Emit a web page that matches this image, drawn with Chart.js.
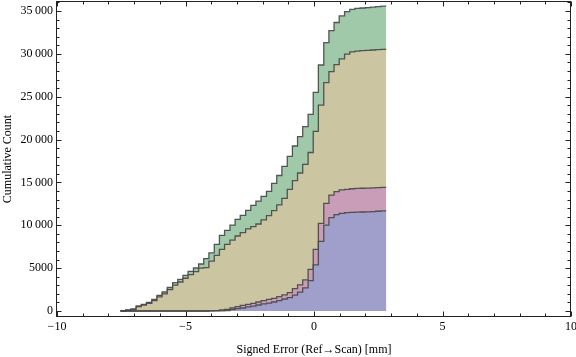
<!DOCTYPE html>
<html>
<head>
<meta charset="utf-8">
<script src="https://cdn.jsdelivr.net/npm/chart.js@4/dist/chart.umd.min.js"></script>
<style>
  html, body { margin: 0; padding: 0; background: #fff; }
</style>
</head>
<body>
<canvas id="cumChart" width="576" height="357"></canvas>
<script>
// bin edges of the cumulative histogram (mm)
const binEdges = [-7.53, -7.33, -7.12, -6.92, -6.72, -6.52, -6.31, -6.11, -5.91, -5.71,
  -5.50, -5.30, -5.10, -4.90, -4.69, -4.49, -4.29, -4.09, -3.88, -3.68,
  -3.48, -3.27, -3.07, -2.87, -2.66, -2.46, -2.26, -2.06, -1.85, -1.65,
  -1.45, -1.25, -1.04, -0.84, -0.64, -0.44, -0.23, -0.03, 0.17, 0.38,
  0.58, 0.78, 0.98, 1.19, 1.39, 1.59, 1.79, 2.00, 2.20, 2.40, 2.60, 2.81];

// cumulative counts per bin, one list per layer
const blueCounts = [0, 0, 0, 0, 0, 0, 0, 0, 0, 0, 0, 0, 0, 0, 0, 0, 0,
  5, 10, 20, 50, 150, 270, 350, 470, 580, 700, 820, 930, 1050, 1200, 1400, 1570,
  1850, 2200, 2700, 3550, 5370, 8130, 10030, 10900, 11250, 11400, 11470, 11500,
  11530, 11550, 11570, 11600, 11640, 11670];
const pinkCounts = [0, 0, 0, 0, 0, 0, 0, 0, 0, 0, 0, 0, 0, 0, 0, 0, 0,
  10, 40, 117, 200, 350, 500, 660, 780, 900, 1050, 1200, 1360, 1480, 1670, 1870, 2150,
  2600, 3050, 3620, 4860, 7200, 10230, 12560, 13530, 13920, 14120, 14190, 14260,
  14300, 14320, 14340, 14360, 14400, 14430];
const tanCounts = [20, 90, 200, 500, 678, 881, 1200, 1638, 1997, 2511, 3026, 3384, 3821,
  4248, 4597, 5013, 5050, 5830, 6500, 7200, 7780, 8280, 8750, 9140, 9570, 9840,
  10150, 10620, 11120, 11700, 12370, 13150, 14200, 15200, 16100, 17110, 18490,
  20960, 24030, 26640, 27920, 28740, 29420, 29960, 30220, 30330, 30370, 30410,
  30450, 30490, 30530];
const greenCounts = [30, 117, 233, 583, 778, 1011, 1361, 1828, 2217, 2761, 3306, 3694,
  4161, 4628, 5017, 5483, 6120, 6780, 7780, 8830, 9410, 10030, 10700, 11165,
  11750, 12330, 12830, 13380, 13950, 14900, 15810, 16870, 18030, 19250, 20340,
  21500, 22950, 25500, 28700, 31300, 32700, 33660, 34420, 34920, 35200, 35300,
  35350, 35400, 35450, 35500, 35560];

const xTicks = [-10, -5, 0, 5, 10];
const yTicks = [0, 5000, 10000, 15000, 20000, 25000, 30000, 35000];

// one point per left bin edge, plus the closing right edge
function steps(counts) {
  return binEdges.map((x, i) => ({ x: x, y: counts[Math.min(i, counts.length - 1)] }));
}

function layer(counts, color) {
  return {
    data: steps(counts),
    stepped: true,
    fill: 'origin',
    backgroundColor: color,
    borderColor: 'rgba(70,70,70,0.9)',
    borderWidth: 1.3,
    pointRadius: 0
  };
}

// frame with inward ticks on all four sides, like the original
const frameTicks = {
  id: 'frameTicks',
  afterDatasetsDraw(chart) {
    const { ctx, chartArea: a, scales: { x, y } } = chart;
    const L = Math.round(a.left) - 0.5, R = Math.round(a.right) - 0.5;
    const T = Math.round(a.top) + 0.5, B = Math.round(a.bottom) - 0.5;
    ctx.save();
    ctx.strokeStyle = '#222';
    ctx.lineWidth = 1;
    ctx.strokeRect(L, T, R - L, B - T);
    ctx.beginPath();
    for (let v = -10; v <= 10; v++) {
      const px = Math.round(x.getPixelForValue(v)) + 0.5;
      const len = v % 5 === 0 ? 5 : 3;
      ctx.moveTo(px, B); ctx.lineTo(px, B - len);
      ctx.moveTo(px, T); ctx.lineTo(px, T + len);
    }
    for (let v = 0; v <= 36000; v += 1000) {
      const py = Math.round(y.getPixelForValue(v)) + 0.5;
      const len = v % 5000 === 0 ? 5 : 3;
      ctx.moveTo(L, py); ctx.lineTo(L + len, py);
      ctx.moveTo(R, py); ctx.lineTo(R - len, py);
    }
    ctx.stroke();
    ctx.restore();
  }
};

const serif = { family: "'Liberation Serif', 'DejaVu Serif', serif", size: 12 };

new Chart(document.getElementById('cumChart').getContext('2d'), {
  type: 'line',
  data: {
    datasets: [
      layer(blueCounts, 'rgb(160,159,203)'),
      layer(pinkCounts, 'rgb(201,156,183)'),
      layer(tanCounts, 'rgb(203,198,161)'),
      layer(greenCounts, 'rgb(159,201,169)')
    ]
  },
  options: {
    responsive: false,
    animation: false,
    layout: { padding: { top: 1, right: 5, left: 0, bottom: 0 } },
    plugins: { legend: { display: false }, tooltip: { enabled: false } },
    scales: {
      x: {
        type: 'linear',
        min: -10,
        max: 10,
        afterFit: s => { s.height = 40; s.paddingLeft = 0; s.paddingRight = 0; },
        afterBuildTicks: s => { s.ticks = xTicks.map(v => ({ value: v })); },
        grid: { display: false, drawTicks: false },
        border: { display: false },
        ticks: {
          color: '#000',
          font: serif,
          padding: 3,
          maxRotation: 0,
          callback: v => (v < 0 ? '\u2212' + Math.abs(v) : String(v))
        },
        title: {
          display: true,
          text: 'Signed Error (Ref\u2192Scan) [mm]',
          color: '#000',
          font: serif,
          padding: { top: 0, bottom: 0 }
        }
      },
      y: {
        min: -700,
        max: 36167,
        afterFit: s => { s.width = 57; s.paddingTop = 0; s.paddingBottom = 0; },
        afterBuildTicks: s => { s.ticks = yTicks.map(v => ({ value: v })); },
        grid: { display: false, drawTicks: false },
        border: { display: false },
        ticks: {
          color: '#000',
          font: serif,
          padding: 4,
          callback: v => (v >= 10000 ? Math.floor(v / 1000) + '\u2009' + String(v % 1000).padStart(3, '0') : String(v))
        },
        title: {
          display: true,
          text: 'Cumulative Count',
          color: '#000',
          font: serif,
          padding: { top: 1, bottom: 0 }
        }
      }
    }
  },
  plugins: [frameTicks]
});
</script>
</body>
</html>
